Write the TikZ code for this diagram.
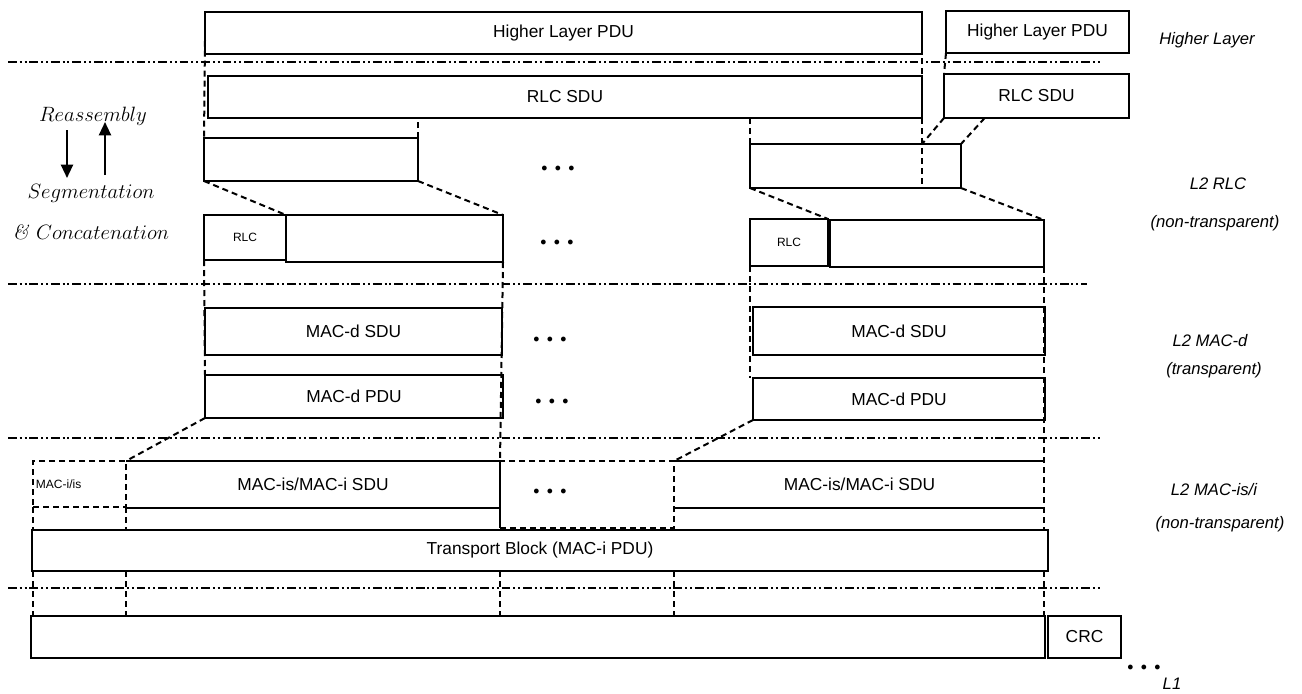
\documentclass[tikz,border=0pt]{standalone}
\usepackage{fontspec}
\setsansfont{Liberation Sans}
\usetikzlibrary{calc,positioning,arrows.meta}
\tikzset{
pdu/.style={draw, line width=0.8pt, inner sep=0pt, outer sep=0pt, font=\sffamily\fontsize{13}{15}\selectfont}, % one block of a PDU
hdr/.style={pdu, font=\sffamily\fontsize{9}{11}\selectfont}, % small header block
spare/.style={pdu, draw=none}, % block drawn by hand
gapbox/.style={pdu, line width=1.5pt, dash pattern=on 4.5pt off 3pt},
span/.style args={#1/#2 to #3/#4}{
   at={({(#1+#3)/2},{(#2+#4)/2})},
   minimum width={(#3-#1)*0.75pt}, minimum height={(#4-#2)*0.75pt}
},
cut/.style={line width=1.5pt, dash pattern=on 4.5pt off 3pt}, % mapping between layers
layer/.style={line width=1.6pt, dash pattern=on 6.5pt off 2.2pt on 1.5pt off 2.2pt on 1.5pt off 2.2pt},
side/.style={font=\sffamily\itshape\fontsize{12.5}{15}\selectfont},
proc/.style={font=\fontsize{14.4}{17}\selectfont, inner sep=0pt},
more/.style={font=\fontsize{9}{9}\selectfont, inner sep=0pt},
flow/.style={line width=1.6pt, -{Triangle[length=10pt,width=9pt]}},
}

\begin{document}
\begin{tikzpicture}[x=0.75pt,y=-0.75pt]
   \useasboundingbox (0,0) rectangle (1302,693);
   \draw[layer] (8,62) -- (1100,62);
   \draw[layer] (8,284) -- (1087,284);
   \draw[layer] (8,438) -- (1100,438);
   \draw[layer] (8,588) -- (1100,588);
   % higher layer and RLC
   \node[pdu, span=205/12 to 922/54] (hl_0) {Higher Layer PDU};
   \node[pdu, span=946/11 to 1129/53] (hl_1) {Higher Layer PDU};
   \node[pdu, span=208/76 to 922/118] (sdu_0) {RLC SDU};
   \node[pdu, span=944/74 to 1129/118] (sdu_1) {RLC SDU};
   \node[pdu, span=204/138 to 418/181] (seg_0) {};
   \node[pdu, span=750/144 to 961/188] (seg_1) {};
   \node[hdr, span=204/215 to 286/260] (rlch_0) {RLC};
   \node[pdu, span=286/215 to 503/262] (rlcd_0) {};
   \node[hdr, span=750/219 to 828/266] (rlch_1) {RLC};
   \node[pdu, span=830/220 to 1044/267] (rlcd_1) {};
   % MAC-d
   \node[pdu, span=205/308 to 502/355] (mdsdu_0) {MAC-d SDU};
   \node[pdu, span=753/307 to 1045/355] (mdsdu_1) {MAC-d SDU};
   \node[pdu, span=205/375 to 503/418] (mdpdu_0) {MAC-d PDU};
   \node[pdu, span=753/378 to 1045/420] (mdpdu_1) {MAC-d PDU};
   % MAC-is/i and L1
   \node[gapbox, span=33/461 to 126/507,
      label={[font=\sffamily\fontsize{9}{11}\selectfont, anchor=west, inner sep=2pt]west:MAC-i/is}] (mih) {};
   \node[spare, span=126/461 to 500/508] (misdu_0) {MAC-is/MAC-i SDU};
   \node[gapbox, span=500/461 to 674/528] (mgap) {};
   \node[spare, span=674/461 to 1045/508] (misdu_1) {MAC-is/MAC-i SDU};
   \node[pdu, span=32/530 to 1048/571] (tb) {Transport Block (MAC-i PDU)};
   \node[pdu, span=31/616 to 1045/658] (phy) {};
   \node[pdu, span=1048/616 to 1121/658] (crc) {CRC};
   \draw[line width=0.8pt] (misdu_0.north west) -- (misdu_0.north east) (misdu_0.south west) -- (misdu_0.south east);
   \draw[line width=0.8pt] (misdu_1.north west) -- (misdu_1.north east) (misdu_1.south west) -- (misdu_1.south east);
   \node[more] (dots_0) at (558,169) {$\bullet\hspace{3.5pt}\bullet\hspace{3.5pt}\bullet$};
   \node[more] (dots_1) at (557,243) {$\bullet\hspace{3.5pt}\bullet\hspace{3.5pt}\bullet$};
   \node[more] (dots_2) at (550,340) {$\bullet\hspace{3.5pt}\bullet\hspace{3.5pt}\bullet$};
   \node[more] (dots_3) at (552,402) {$\bullet\hspace{3.5pt}\bullet\hspace{3.5pt}\bullet$};
   \node[more] (dots_4) at (550,492) {$\bullet\hspace{3.5pt}\bullet\hspace{3.5pt}\bullet$};
   \node[more] (dots_5) at (1144,668) {$\bullet\hspace{3.5pt}\bullet\hspace{3.5pt}\bullet$};
    \path[cut]
    ([yshift=10pt]hl_0.south west) edge (seg_0.north west)
    ([yshift=12pt]hl_0.south east) edge (hl_0.south east |- seg_1.south)
    (hl_1.south west) edge (sdu_1.north west)
    (sdu_1.south west) edge (hl_0.east |- seg_1.north)
    ($(sdu_1.south west)!0.22!(sdu_1.south east)$) edge (seg_1.north east)
    (seg_0.north east) edge (seg_0.north east |- sdu_0.south)
    (seg_1.north west) edge (seg_1.north west |- sdu_0.south)
    (seg_0.south west) edge (rlch_0.north east)
    (seg_0.south east) edge (rlcd_0.north east)
    (seg_1.south west) edge (rlch_1.north east)
    (seg_1.south east) edge (rlcd_1.north east)
    (rlch_0.south west) edge (mdpdu_0.north west)
    (rlcd_0.south east) edge (misdu_0.north east)
    (misdu_0.north east) edge (misdu_0.north east |- tb.north)
    (misdu_0.north east |- tb.south) edge (misdu_0.north east |- phy.north)
    (rlch_1.south west) edge (rlch_1.south west |- mdpdu_1.north)
    (rlcd_1.south east) edge (rlcd_1.south east |- tb.north)
    (rlcd_1.south east |- tb.south) edge (rlcd_1.south east |- phy.north)
    (mdpdu_0.south west) edge (mih.north east)
    (mdpdu_1.south west) edge (mgap.north east)
    (mih.south west) edge (mih.south west |- tb.north)
    (mih.south west |- tb.south) edge (mih.south west |- phy.north)
    (mih.south east) edge (mih.south east |- tb.north)
    (mih.south east |- tb.south) edge (mih.south east |- phy.north)
    (mgap.south east |- tb.south) edge (mgap.south east |- phy.north);
   % left hand side
   \node[proc] (reasm) at (93,116) {\scalebox{1.08}{$Reassembly$}};
   \node[proc] (segm) at (91,193) {\scalebox{1.08}{$Segmentation$}};
   \node[proc] (concat) at (91,232) {\scalebox{1.08}{\textit{\&}~$Concatenation$}};
   \coordinate (down_a) at (67,130);
   \coordinate (down_b) at (67,178);
   \coordinate (up_a) at (105,175);
   \coordinate (up_b) at (105,122);
   \draw[flow] (down_a) -- (down_b);
   \draw[flow] (up_a) -- (up_b);
   % right hand side
   \node[side] (lay_hl) at (1207,40) {Higher Layer};
   \node[side] (lay_rlc) at (1218,184) {L2 RLC};
   \node[side] (lay_rlc_nt) at (1215,223) {(non-transparent)};
   \node[side] (lay_macd) at (1210,341) {L2 MAC-d};
   \node[side] (lay_macd_t) at (1214,370) {(transparent)};
   \node[side] (lay_maci) at (1214,490) {L2 MAC-is/i};
   \node[side] (lay_maci_nt) at (1220,524) {(non-transparent)};
   \node[side] (lay_l1) at (1172,684) {L1};
\end{tikzpicture}
\end{document}
